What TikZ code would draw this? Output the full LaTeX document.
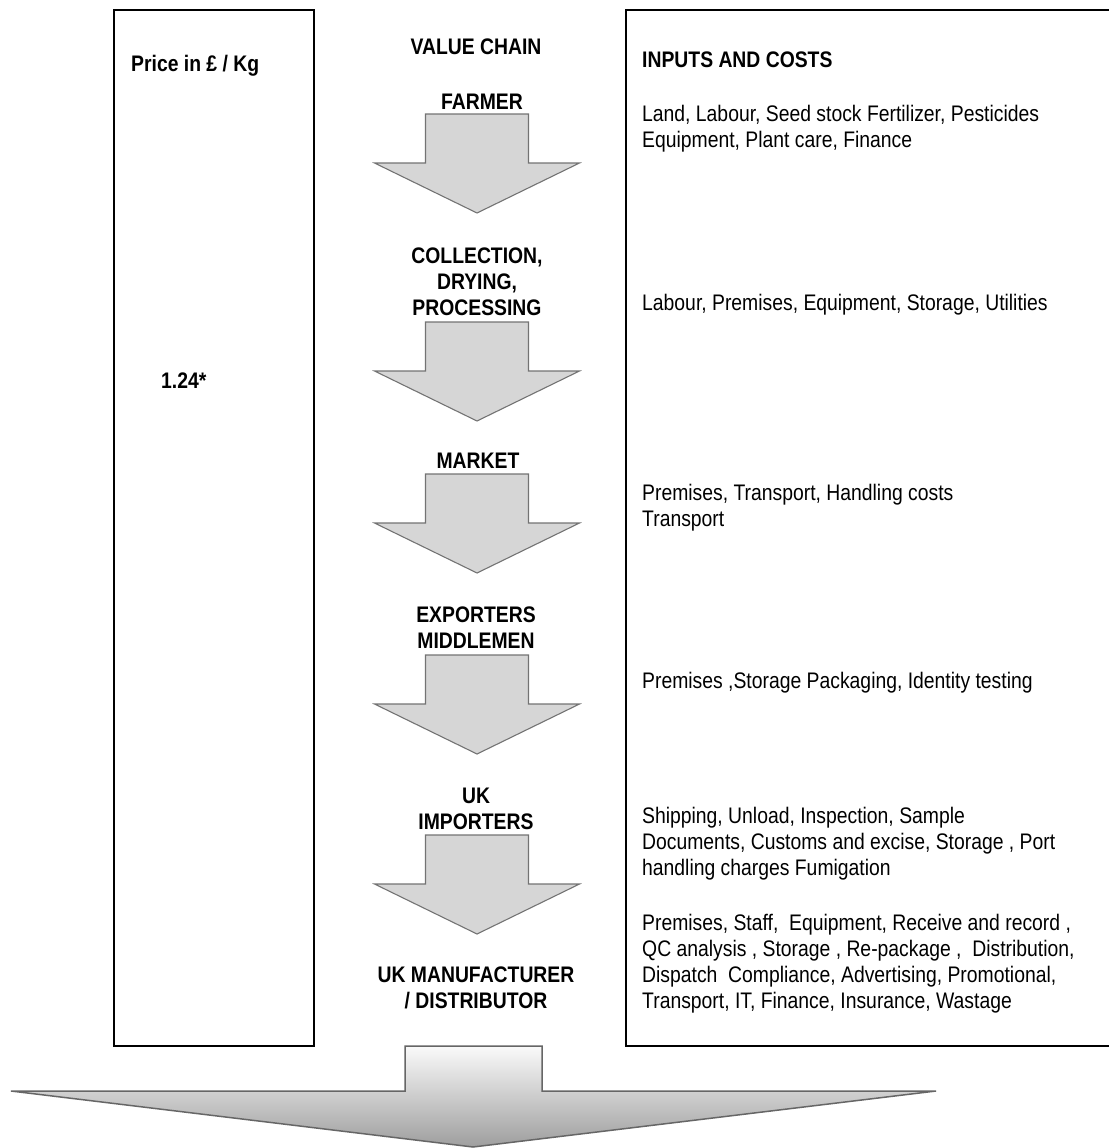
\documentclass[tikz,border=0pt]{standalone}
\usepackage{fontspec}
\setmainfont{Liberation Sans}[FakeStretch=0.86]
\usetikzlibrary{positioning}

\begin{document}
\begin{tikzpicture}[x=1pt, y=-1pt,
  font=\fontsize{22.5}{26}\selectfont,
  frame/.style={draw=black, line width=1.8pt, anchor=north west, inner sep=0pt},
  stage/.style={font=\fontsize{22.5}{26}\selectfont\bfseries, align=center, anchor=base, inner sep=0pt},
  cost/.style={align=left, anchor=base west, inner sep=0pt},
  flow/.style={draw=black!55, fill=black!16, line width=1.1pt, line join=miter},
  bigflow/.style={draw=black!60, top color=black!2, bottom color=black!38, line width=1.5pt}]
\useasboundingbox (0,0) rectangle (1108,1148);
% ---------------- frames ----------------
\node[frame, minimum width=200pt, minimum height=1036pt] (pricebox) at (113,9) {};
\node[frame, minimum width=520pt, minimum height=1036pt] (costbox)  at (625,9) {};
% ---------------- value chain (middle) ----------------
\foreach \t in {114,322,474,655,835}
  \draw[flow] (425.5,\t) -- (528.5,\t) -- (528.5,\t+49) -- (579.5,\t+49)
    -- (477,\t+99) -- (374.5,\t+49) -- (425.5,\t+49) -- cycle;
\draw[bigflow] (405,1046) -- (542,1046) -- (542,1091) -- (936,1091)
  -- (473,1147) -- (11,1091) -- (405,1091) -- cycle;
% multi-line nodes sit on the baseline of their last line
\node[stage] (vchain)  at (476,55)   {VALUE CHAIN};
\node[stage] (farmer)  at (482,109)  {FARMER};
\node[stage] (collect) at (477,315)  {COLLECTION,\\DRYING,\\PROCESSING};
\node[stage] (market)  at (478,468)  {MARKET};
\node[stage] (export)  at (476,648)  {EXPORTERS\\MIDDLEMEN};
\node[stage] (import)  at (476,829)  {UK\\IMPORTERS};
\node[stage] (manuf)   at (476,1008) {UK MANUFACTURER\\/ DISTRIBUTOR};
% ---------------- price (left) ----------------
\node[stage, anchor=base west] (pricehead) at (131,71)  {Price in £ / Kg};
\node[stage, anchor=base west] (price)     at (161,388) {1.24*};
% ---------------- inputs and costs (right) ----------------
\node[stage, anchor=base west] (costhead) at (642,67) {INPUTS AND COSTS};
\node[cost] (cfarm)    at (642,147)  {Land, Labour, Seed stock Fertilizer, Pesticides\\Equipment, Plant care, Finance};
\node[cost] (ccollect) at (642,310)  {Labour, Premises, Equipment, Storage, Utilities};
\node[cost] (cmarket)  at (642,526)  {Premises, Transport, Handling costs\\Transport};
\node[cost] (cexport)  at (642,688)  {Premises ,Storage Packaging, Identity testing};
\node[cost] (cimport)  at (642,875)  {Shipping, Unload, Inspection, Sample\\Documents, Customs and excise, Storage , Port\\handling charges Fumigation};
\node[cost] (cmanuf)   at (642,1008) {Premises, Staff,\ \ Equipment, Receive and record ,\\QC analysis , Storage , Re-package ,\ \ Distribution,\\Dispatch\ \ Compliance, Advertising, Promotional,\\Transport, IT, Finance, Insurance, Wastage};
\end{tikzpicture}
\end{document}
